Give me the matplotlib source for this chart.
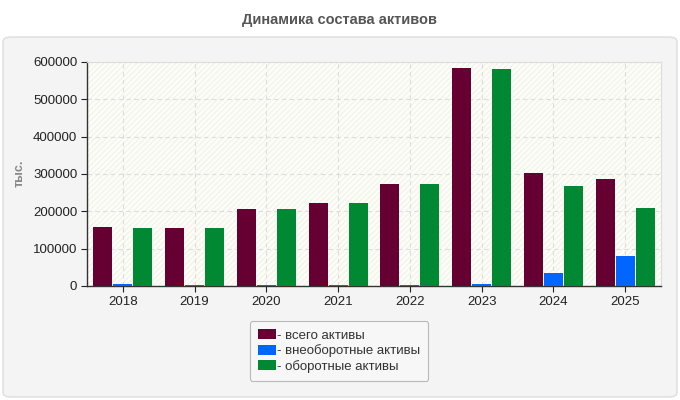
import matplotlib
matplotlib.use("Agg")
import matplotlib.pyplot as plt
from matplotlib.patches import FancyBboxPatch, Rectangle
import numpy as np

years = ["2018", "2019", "2020", "2021", "2022", "2023", "2024", "2025"]
total = [158000, 155000, 206000, 222000, 273000, 584000, 303000, 287000]
noncurrent = [5000, 2700, 2700, 2500, 2500, 5000, 35000, 80000]
current = [155000, 155000, 206000, 222000, 273000, 581000, 268000, 209000]
series_names = ["- всего активы", "- внеоборотные активы", "- оборотные активы"]
colors = ["#660033", "#0066ff", "#008833"]

plt.rcParams['font.family'] = ['Liberation Sans', 'DejaVu Sans']
plt.rcParams['hatch.color'] = '#eeeee8'
plt.rcParams['hatch.linewidth'] = 0.6

fig = plt.figure(figsize=(6.8, 4.0), dpi=100)
fig.patch.set_facecolor('white')

# outer panel
panel = FancyBboxPatch((3/680, 3/400), 674/680, 360/400,
                       boxstyle="round,pad=0,rounding_size=0.012",
                       transform=fig.transFigure, facecolor='#f4f4f4',
                       edgecolor='#dddddd', linewidth=1.0, zorder=-10)
fig.patches.append(panel)

fig.text(0.5, 1 - 20/400, "Динамика состава активов", ha='center', va='center',
         fontsize=10.5, fontweight='bold', color='#555555')

ax = fig.add_axes([87/680, 1 - 286/400, (661-87)/680, (286-62)/400])
ax.set_facecolor('#fdfdf7')
ax.add_patch(Rectangle((0, 0), 1, 1, transform=ax.transAxes, facecolor='none',
                       hatch='//////', edgecolor='#efefe8', linewidth=0, zorder=0))

x = np.arange(len(years))
w = 0.265
step = 0.278
for i, (vals, c, name) in enumerate(zip([total, noncurrent, current], colors, series_names)):
    ax.bar(x + (i - 1) * step, vals, width=w, color=c, label=name, zorder=3)

ax.set_xlim(-0.5, len(years) - 0.5)
ax.set_ylim(0, 600000)
ax.set_yticks(np.arange(0, 600001, 100000))
ax.set_yticklabels([str(v) for v in range(0, 600001, 100000)])
ax.set_xticks(x)
ax.set_xticklabels(years)
ax.tick_params(axis='both', labelsize=9.5, colors='#222222', length=4, width=0.8)
ax.tick_params(axis='y', pad=3)
ax.grid(True, color='#dddddd', linestyle=(0, (4, 3)), linewidth=0.8, zorder=1)
ax.set_axisbelow(True)
for s in ['top', 'right']:
    ax.spines[s].set_color('#dddddd')
for s in ['left', 'bottom']:
    ax.spines[s].set_color('#333333')
    ax.spines[s].set_linewidth(1.0)

fig.text(20/680, 1 - 173/400, "тыс.", rotation=90, ha='center', va='center',
         fontsize=9, fontweight='bold', color='#888888')

leg = fig.legend(loc='center', bbox_to_anchor=(339/680, 1 - 351/400),
                 fontsize=9.5, frameon=True, fancybox=True, handlelength=1.4,
                 handleheight=0.8, handletextpad=0.1, labelspacing=0.2,
                 borderpad=0.6, edgecolor='#aaaaaa', facecolor='#f8f8f8')
leg.get_frame().set_linewidth(0.8)
for t in leg.get_texts():
    t.set_color('#333333')

fig.savefig("out.png", dpi=100, facecolor='white')
